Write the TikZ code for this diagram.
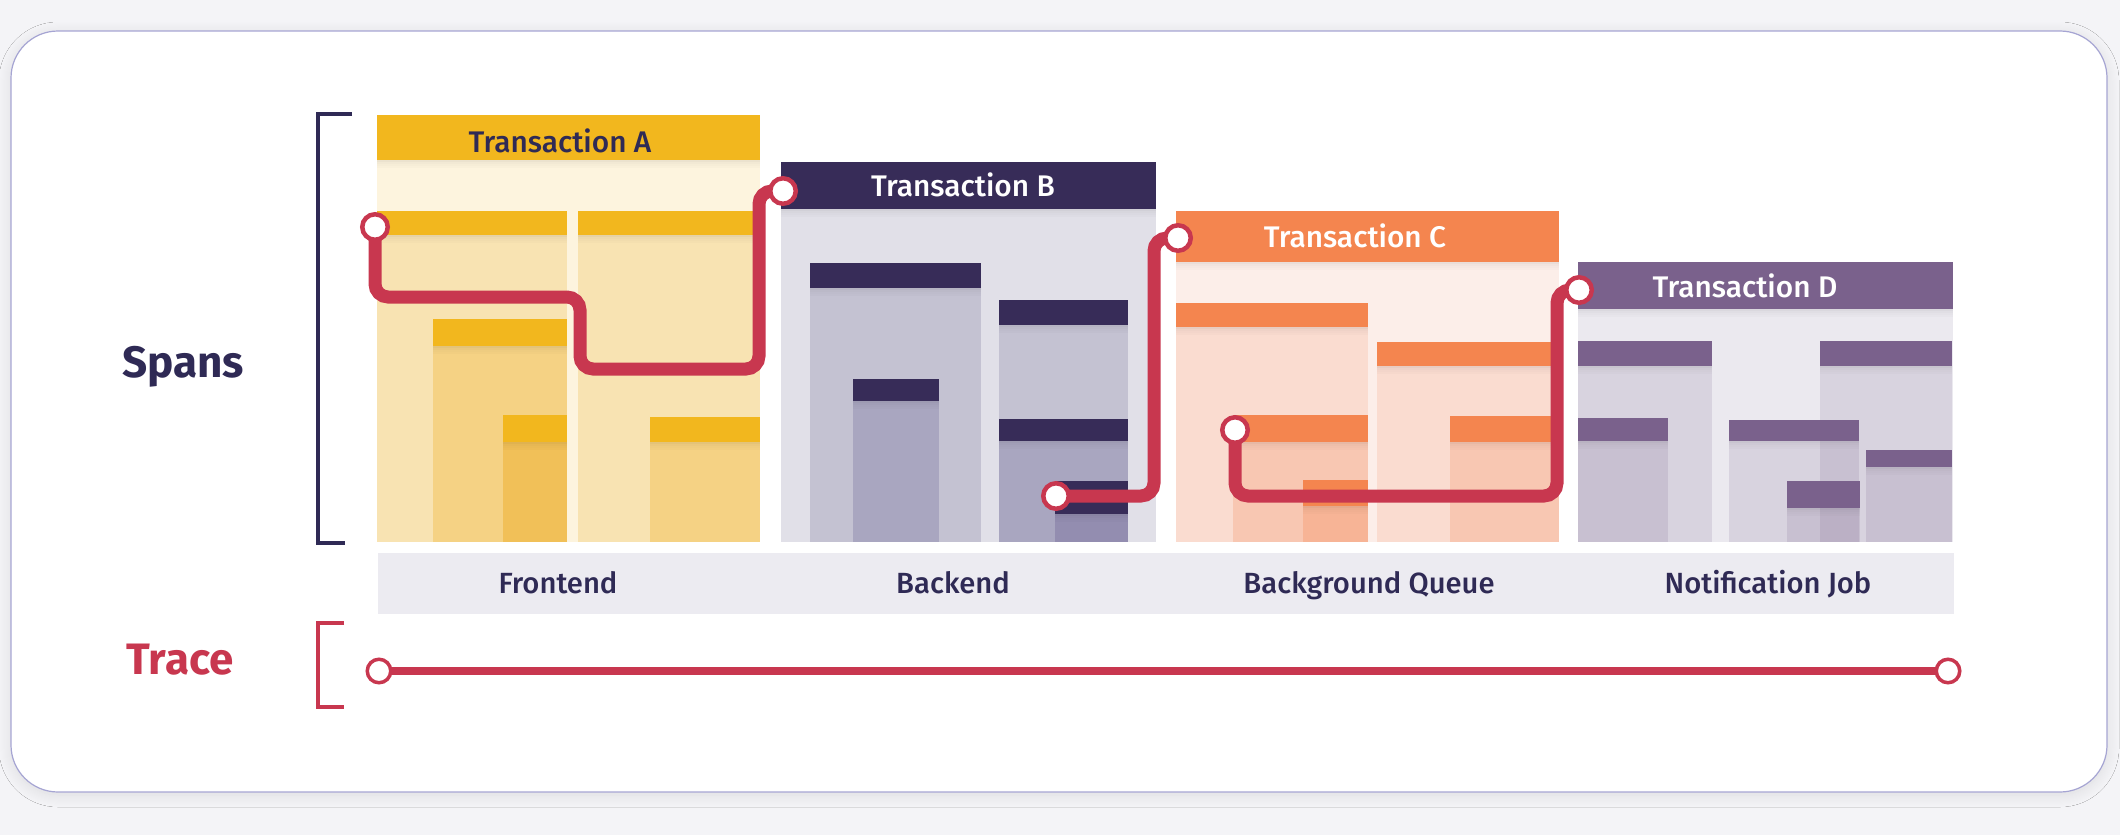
\documentclass[tikz,border=0pt]{standalone}
\usepackage{fontspec}
\setmainfont{Fira Sans}
\newfontfamily\medfont{Fira Sans Medium}
\usetikzlibrary{shadows.blur}

\definecolor{bgout}{HTML}{F4F4F7}
\definecolor{cardline}{HTML}{A6A5D3}
\definecolor{navy}{HTML}{2F2A55}
\definecolor{tred}{HTML}{C8374F}
\definecolor{abar}{HTML}{F2B71E}
\definecolor{bbar}{HTML}{372C58}
\definecolor{cbar}{HTML}{F4854F}
\definecolor{dbar}{HTML}{7A618C}
\definecolor{lblbar}{HTML}{ECEBF1}
\definecolor{apanel}{HTML}{FDF4DE}
\definecolor{aone}{HTML}{F8E3B2}
\definecolor{atwo}{HTML}{F5D284}
\definecolor{athree}{HTML}{F1C058}
\definecolor{bpanel}{HTML}{E1E0E8}
\definecolor{bone}{HTML}{C4C2D2}
\definecolor{btwo}{HTML}{A9A6C0}
\definecolor{bthree}{HTML}{938DB0}
\definecolor{cpanel}{HTML}{FCEEE9}
\definecolor{cone}{HTML}{FADCD0}
\definecolor{ctwo}{HTML}{F8C7B2}
\definecolor{cthree}{HTML}{F7B496}
\definecolor{dpanel}{HTML}{EBE9EF}

% soft shadow strip under a bar: x1, x2, y (top of strip)
\newcommand\barshade[3]{%
  \foreach \k/\o in {0/0.07,1/0.045,2/0.028,3/0.014}
    \fill[black, fill opacity=\o] (#1,{#3+2*\k}) rectangle (#2,{#3+2*\k+2});}

% one span: x1, y1, x2, y2 of the bar, bar colour, body style
\newcommand\spanbox[6]{%
  \fill[#6] (#1,#4) rectangle (#3,542);
  \barshade{#1}{#3}{#4}
  \fill[#5] (#1,#2) rectangle (#3,#4);}

\tikzset{
  abody1/.style={fill=aone}, abody2/.style={fill=atwo}, abody3/.style={fill=athree},
  bbody1/.style={fill=bone}, bbody2/.style={fill=btwo}, bbody3/.style={fill=bthree},
  cbody1/.style={fill=cone}, cbody2/.style={fill=ctwo}, cbody3/.style={fill=cthree},
  dbody/.style={fill=dbar, fill opacity=0.16},
  hdrtext/.style={font=\medfont\fontsize{14.9}{18}\selectfont, anchor=base, inner sep=0pt},
  lbltext/.style={font=\medfont\fontsize{14.6}{18}\selectfont, text=navy, anchor=base, inner sep=0pt},
  sidetext/.style={font=\bfseries\fontsize{22}{26}\selectfont, anchor=base, inner sep=0pt},
  traceline/.style={draw=tred, line width=6.5pt, rounded corners=6.5pt},
  dot/.style={circle, draw=tred, line width=2.25pt, fill=white, inner sep=0pt, minimum size=12.75pt},
  smalldot/.style={circle, draw=tred, line width=1.75pt, fill=white, inner sep=0pt, minimum size=11.75pt},
}

\begin{document}
\begin{tikzpicture}[x=0.5pt, y=-0.5pt]
  % page and card
  \fill[bgout] (0,0) rectangle (2120,835);
  \useasboundingbox (0,0) rectangle (2120,835);
  \path[fill=white, draw=cardline, line width=0.6pt, rounded corners=23.5pt,
        blur shadow={shadow blur steps=12, shadow xshift=0pt, shadow yshift=-1.5pt,
                     shadow blur radius=6pt, shadow opacity=10}]
    (11,31) rectangle (2107,792);

  % side labels and brackets
  \node[sidetext, text=navy] (spansLbl) at (183,377) {Spans};
  \node[sidetext, text=tred] (traceLbl) at (180,674) {Trace};
  \draw[navy, line width=2pt] (352,114) -- (318,114) -- (318,543) -- (345,543);
  \draw[tred, line width=1.6pt] (344,623) -- (318,623) -- (318,707) -- (344,707);

  % ---- Transaction A (Frontend)
  \fill[apanel] (377,160) rectangle (760,542);
  \barshade{377}{760}{160}
  \fill[abar] (377,115) rectangle (760,160);
  \node[hdrtext, text=navy] (hdrA) at (560,152) {Transaction A};
  \spanbox{377}{211}{567}{235}{abar}{abody1}
  \spanbox{433}{319}{567}{346}{abar}{abody2}
  \spanbox{503}{415}{567}{442}{abar}{abody3}
  \spanbox{578}{211}{760}{235}{abar}{abody1}
  \spanbox{650}{417}{760}{442}{abar}{abody2}

  % ---- Transaction B (Backend)
  \fill[bpanel] (781,209) rectangle (1156,542);
  \barshade{781}{1156}{209}
  \fill[bbar] (781,162) rectangle (1156,209);
  \node[hdrtext, text=white] (hdrB) at (963,196) {Transaction B};
  \spanbox{810}{263}{981}{288}{bbar}{bbody1}
  \spanbox{853}{379}{939}{401}{bbar}{bbody2}
  \spanbox{999}{300}{1128}{325}{bbar}{bbody1}
  \spanbox{999}{419}{1128}{441}{bbar}{bbody2}
  \spanbox{1055}{481}{1128}{514}{bbar}{bbody3}

  % ---- Transaction C (Background Queue)
  \fill[cpanel] (1176,262) rectangle (1559,542);
  \barshade{1176}{1559}{262}
  \fill[cbar] (1176,211) rectangle (1559,262);
  \node[hdrtext, text=white] (hdrC) at (1355,247) {Transaction C};
  \spanbox{1176}{303}{1368}{327}{cbar}{cbody1}
  \spanbox{1233}{415}{1368}{442}{cbar}{cbody2}
  \spanbox{1303}{480}{1368}{506}{cbar}{cbody3}
  \spanbox{1377}{342}{1559}{366}{cbar}{cbody1}
  \spanbox{1450}{416}{1559}{442}{cbar}{cbody2}

  % ---- Transaction D (Notification Job)
  \fill[dpanel] (1578,309) rectangle (1953,542);
  \barshade{1578}{1953}{309}
  \fill[dbar] (1578,262) rectangle (1953,309);
  \node[hdrtext, text=white] (hdrD) at (1745,297) {Transaction D};
  \spanbox{1578}{341}{1712}{366}{dbar}{dbody}
  \spanbox{1578}{418}{1668}{441}{dbar}{dbody}
  \spanbox{1820}{341}{1952}{366}{dbar}{dbody}
  \spanbox{1729}{420}{1859}{441}{dbar}{dbody}
  \spanbox{1787}{481}{1860}{508}{dbar}{dbody}
  \spanbox{1866}{450}{1952}{467}{dbar}{dbody}

  % service labels
  \fill[lblbar] (378,553) rectangle (1954,614);
  \node[lbltext] (svcA) at (558,593) {Frontend};
  \node[lbltext] (svcB) at (953,593) {Backend};
  \node[lbltext] (svcC) at (1369,593) {Background Queue};
  \node[lbltext] (svcD) at (1768,593) {Notification Job};

  % trace points
  \coordinate (pA) at (375,227);
  \coordinate (pB) at (783,191);
  \coordinate (qB) at (1056,496);
  \coordinate (pC) at (1178,238);
  \coordinate (qC) at (1235,430);
  \coordinate (pD) at (1579,290);
  \coordinate (tS) at (379,671);
  \coordinate (tE) at (1948,671);

  % trace links between transactions
  \draw[traceline] (pA) -- (375,297) -- (580,297) -- (580,369) -- (759,369) -- (759,191) -- (pB);
  \draw[traceline] (qB) -- (1154,496) -- (1154,238) -- (pC);
  \draw[traceline] (qC) -- (1235,496) -- (1557,496) -- (1557,290) -- (pD);
  \draw[tred, line width=4pt] (tS) -- (tE);

  \node[dot] (dA) at (pA) {};
  \node[dot] (dB) at (pB) {};
  \node[dot] (eB) at (qB) {};
  \node[dot] (dC) at (pC) {};
  \node[dot] (eC) at (qC) {};
  \node[dot] (dD) at (pD) {};
  \node[smalldot] (dS) at (tS) {};
  \node[smalldot] (dE) at (tE) {};
\end{tikzpicture}
\end{document}
